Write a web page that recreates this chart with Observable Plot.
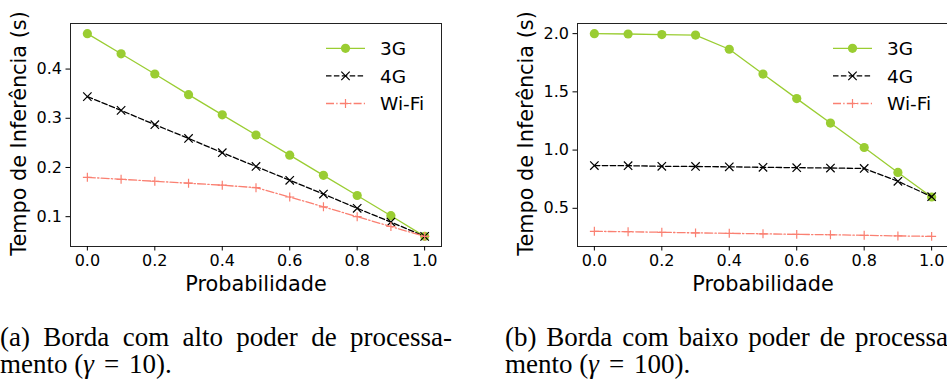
<!DOCTYPE html>
<html><head><meta charset="utf-8">
<script src="https://cdn.jsdelivr.net/npm/d3@7"></script>
<script src="https://cdn.jsdelivr.net/npm/@observablehq/plot@0.6"></script>
<style>
html,body{margin:0;padding:0;background:#fff;overflow:hidden;width:947px;height:383px;}
#root{position:relative;width:947px;height:383px;overflow:hidden;}
.panel{position:absolute;top:0;width:480px;height:300px;}
.panel svg{overflow:visible;max-width:none !important;}
.cap{position:absolute;font-family:"Liberation Serif","Times New Roman",serif;font-size:27px;line-height:27.5px;color:#000;white-space:nowrap;}
.cap .l1{text-align:justify;text-align-last:justify;white-space:normal;}
</style></head><body><div id="root"></div>
<script>
// ---- data ----
const probabilidade = [0.0, 0.1, 0.2, 0.3, 0.4, 0.5, 0.6, 0.7, 0.8, 0.9, 1.0];
const seriesNames = ["3G", "4G", "Wi-Fi"];
// (a) gamma = 10
const a3G   = [0.472, 0.431, 0.390, 0.348, 0.307, 0.266, 0.225, 0.184, 0.143, 0.102, 0.060];
const a4G   = [0.344, 0.316, 0.287, 0.259, 0.230, 0.202, 0.174, 0.146, 0.117, 0.089, 0.060];
const aWiFi = [0.180, 0.176, 0.172, 0.168, 0.164, 0.159, 0.140, 0.120, 0.100, 0.080, 0.060];
// (b) gamma = 100
const b3G   = [2.000, 1.997, 1.992, 1.988, 1.866, 1.653, 1.442, 1.232, 1.022, 0.808, 0.597];
const b4G   = [0.867, 0.866, 0.861, 0.859, 0.856, 0.852, 0.849, 0.846, 0.842, 0.732, 0.600];
const bWiFi = [0.302, 0.299, 0.294, 0.289, 0.285, 0.281, 0.276, 0.273, 0.268, 0.263, 0.259];
const xTicks  = [0.0, 0.2, 0.4, 0.6, 0.8, 1.0];
const yTicksA = [0.1, 0.2, 0.3, 0.4];
const yTicksB = [0.5, 1.0, 1.5, 2.0];
const xLabel = "Probabilidade";
const yLabel = "Tempo de Inferência (s)";

// ---- styles ----
const styles = {
  "3G":    {color: "#9acd32", dash: null,            symbol: "circle", r: 4.6, filled: true},
  "4G":    {color: "#000000", dash: "5.5,2.4",       symbol: "times",  r: 3.9, filled: false},
  "Wi-Fi": {color: "#fa8072", dash: "8,2.2,1.4,2.2", symbol: "plus",   r: 3.0, filled: false}
};
const symbolMap = {circle: d3.symbolCircle, times: d3.symbolTimes, plus: d3.symbolPlus};

function makePanel(vals, yTicks) {
  const rows = [];
  seriesNames.forEach((s, i) => probabilidade.forEach((p, j) => rows.push({p, v: vals[i][j], s})));
  const [lo, hi] = d3.extent(rows, d => d.v);
  const pad = (hi - lo) * 0.05;
  const marks = [
    Plot.frame({stroke: "#222", strokeWidth: 1}),
    Plot.axisX({ticks: xTicks, tickFormat: d3.format(".1f"), tickSize: 4.5, tickPadding: 3.5, fontSize: 16, label: null}),
    Plot.axisY({ticks: yTicks, tickFormat: d3.format(".1f"), tickSize: 4.5, tickPadding: 4, fontSize: 16, label: null}),
    Plot.text([xLabel], {text: d => d, frameAnchor: "bottom", dy: 44, lineAnchor: "bottom", textAnchor: "middle", fontSize: 20.8}),
    Plot.text([yLabel], {text: d => d, frameAnchor: "left", dx: -44.5, dy: -1.5, rotate: -90, lineAnchor: "bottom", textAnchor: "middle", fontSize: 20.8})
  ];
  for (const s of seriesNames) {
    const st = styles[s];
    const data = rows.filter(d => d.s === s);
    marks.push(Plot.line(data, {x: "p", y: "v", stroke: st.color, strokeWidth: 1.3, strokeDasharray: st.dash}));
    marks.push(st.filled
      ? Plot.dot(data, {x: "p", y: "v", symbol: st.symbol, r: st.r, fill: st.color, stroke: "none"})
      : Plot.dot(data, {x: "p", y: "v", symbol: st.symbol, r: st.r, stroke: st.color, strokeWidth: 1.2, fill: "none"}));
  }
  const svg = Plot.plot({
    width: 480, height: 300,
    marginLeft: 70, marginRight: 39, marginTop: 23, marginBottom: 54,
    style: {fontFamily: "'DejaVu Sans', sans-serif", background: "transparent", color: "#000", maxWidth: "none", overflow: "visible"},
    x: {domain: [-0.05, 1.05]},
    y: {domain: [lo - pad, hi + pad]},
    marks
  });
  // legend
  const g = d3.select(svg).append("g")
    .attr("font-family", "'DejaVu Sans', sans-serif").attr("font-size", 18.5).attr("text-anchor", "start");
  seriesNames.forEach((s, i) => {
    const st = styles[s];
    const y = 48.3 + i * 27.6;
    g.append("line").attr("x1", 326).attr("x2", 365).attr("y1", y).attr("y2", y)
      .attr("stroke", st.color).attr("stroke-width", 1.3).attr("stroke-dasharray", st.dash);
    const p = g.append("path").attr("transform", `translate(345.5,${y})`)
      .attr("d", d3.symbol(symbolMap[st.symbol], Math.PI * st.r * st.r)());
    if (st.filled) p.attr("fill", st.color); else p.attr("fill", "none").attr("stroke", st.color).attr("stroke-width", 1.2);
    g.append("text").attr("x", 380).attr("y", y + 6.7).attr("fill", "#000").attr("text-anchor", "start").text(s);
  });
  return svg;
}

const root = document.getElementById("root");
const pa = document.createElement("div"); pa.className = "panel"; pa.style.left = "0px";
pa.appendChild(makePanel([a3G, a4G, aWiFi], yTicksA)); root.appendChild(pa);
const pb = document.createElement("div"); pb.className = "panel"; pb.style.left = "507px";
pb.appendChild(makePanel([b3G, b4G, bWiFi], yTicksB)); root.appendChild(pb);

// captions
function caption(left, line1, gamma) {
  const c = document.createElement("div");
  c.className = "cap"; c.style.left = left + "px"; c.style.top = "323.6px";
  c.innerHTML = `<div class="l1" style="width:452px">${line1}</div><div>mento (<i>γ</i><span style="margin:0 10px">=</span>${gamma}).</div>`;
  root.appendChild(c);
}
caption(0, "(a) Borda com alto poder de processa-", "10");
caption(505, "(b) Borda com baixo poder de processa-", "100");
</script>
</body></html>
